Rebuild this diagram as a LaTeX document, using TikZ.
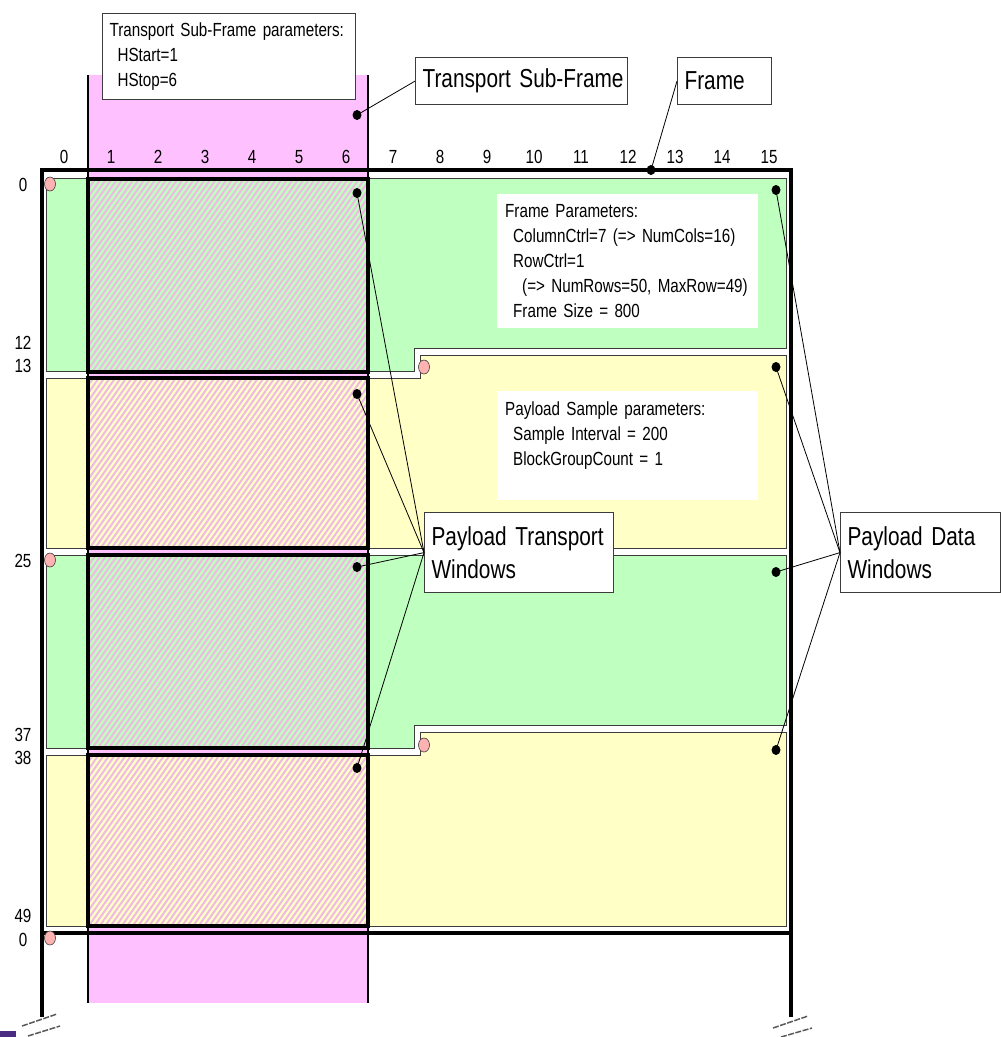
\documentclass[tikz,border=0pt]{standalone}
\usepackage{fontspec}
\setmainfont{Liberation Sans}[FakeStretch=0.8, WordSpace=0.65]
\usetikzlibrary{patterns.meta, shapes.geometric, positioning}

\definecolor{framegreen}{HTML}{BFFFC0}
\definecolor{frameyellow}{HTML}{FFFFC6}
\definecolor{subpink}{HTML}{FFC0FF}
\definecolor{hatchpink}{HTML}{F0B8E4}
\definecolor{startred}{HTML}{FFB2B2}
\definecolor{edgegray}{HTML}{3C3C3C}
\definecolor{slidepurple}{HTML}{4A2C82}

\begin{document}
\begin{tikzpicture}[x=1pt, y=-1pt,
    small/.style={font=\fontsize{19}{25}\selectfont},
    big/.style={font=\fontsize{26}{33}\selectfont},
    labelbox/.style={draw=edgegray, line width=1.2pt, fill=white, anchor=north west,
        align=left, inner xsep=7pt, inner ysep=0pt, text width=#1},
    parambox/.style={fill=white, anchor=north west, align=left, small,
        inner xsep=8pt, inner ysep=0pt, text width=#1},
    region/.style={draw=edgegray, line width=0.9pt},
    window/.style={draw=black, line width=4pt, preaction={fill=#1},
        pattern={Lines[angle=55, distance=4.5pt, line width=2pt]}, pattern color=hatchpink},
    frameline/.style={line width=4pt},
    dot/.style={ellipse, fill=black, inner sep=0pt, minimum width=9pt, minimum height=10pt},
    startmark/.style={ellipse, draw=edgegray, fill=startred, line width=0.6pt,
        inner sep=0pt, minimum width=11pt, minimum height=14pt},
    leader/.style={line width=0.8pt},
    breakmark/.style={black!65, line width=1.5pt, dash pattern=on 6pt off 1.5pt}]
    \useasboundingbox (0,0) rectangle (1001,1037);

    % Transport sub-frame band
    \fill[subpink] (88,75) rectangle (368,1003);

    % Payload data windows
    \filldraw[region, fill=framegreen] (46,178) -- (786,178) -- (786,348) -- (414,348) -- (414,371) -- (46,371) -- cycle;
    \filldraw[region, fill=frameyellow] (46,378) -- (420,378) -- (420,355) -- (786,355) -- (786,548) -- (46,548) -- cycle;
    \filldraw[region, fill=framegreen] (46,555) -- (786,555) -- (786,725) -- (414,725) -- (414,748) -- (46,748) -- cycle;
    \filldraw[region, fill=frameyellow] (46,755) -- (420,755) -- (420,732) -- (786,732) -- (786,926) -- (46,926) -- cycle;

    % Payload transport windows
    \draw[window=framegreen] (88,179) rectangle (368,372);
    \draw[window=frameyellow] (88,378) rectangle (368,548);
    \draw[window=framegreen] (88,555) rectangle (368,748);
    \draw[window=frameyellow] (88,755) rectangle (368,926);

    % Sub-frame edges
    \draw[line width=1.5pt] (88,75) -- (88,1003) (368,75) -- (368,1003);

    % Frame
    \draw[frameline] (42,1017) -- (42,170) -- (791,170) -- (791,1017);
    \draw[frameline] (42,933) -- (791,933);

    % Breaks
    \draw[breakmark] (22,1026) -- (57,1014) (28,1036) -- (60,1026);
    \draw[breakmark] (773,1028) -- (808,1016) (781,1037) -- (812,1028);
    \fill[slidepurple] (0,1031) rectangle (16,1037);

    % Column numbers
    \foreach \c in {0,...,15}
        \node[small] (col\c) at ({64+47*\c},157) {\c};

    % Row numbers
    \foreach \r/\y [count=\i] in {0/185, 12/343, 13/366, 25/561, 37/735, 38/758, 49/916, 0/940}
        \node[small] (row\i) at (23,\y) {\r};

    % Start of each data window
    \foreach \x/\y [count=\i] in {50/184, 424/367, 50/560, 424/745, 50/938}
        \node[startmark] (start\i) at (\x,\y) {};

    % Parameter boxes
    \node[parambox=245pt, minimum height=134pt] (frameparams) at (497,194)
        {Frame Parameters:\\
         \hspace*{8pt}ColumnCtrl=7 (=> NumCols=16)\\
         \hspace*{8pt}RowCtrl=1\\
         \hspace*{17pt}(=> NumRows=50, MaxRow=49)\\
         \hspace*{8pt}Frame Size = 800};
    \node[parambox=245pt, minimum height=109pt] (sampleparams) at (497,391)
        {Payload Sample parameters:\\
         \hspace*{8pt}Sample Interval = 200\\
         \hspace*{8pt}BlockGroupCount = 1\\
         \mbox{}};
    \node[labelbox=239pt, small, minimum height=86pt] (subparams) at (102,13)
        {\mbox{Transport Sub-Frame parameters:}\\
         \hspace*{8pt}HStart=1\\
         \hspace*{8pt}HStop=6};

    % Callouts
    \node[labelbox=198pt, big, minimum height=47pt] (subframe) at (415,57) {\mbox{Transport Sub-Frame}};
    \node[labelbox=80pt, big, minimum height=47pt] (frame) at (677,57) {Frame};
    \node[labelbox=175pt, big, minimum height=80pt] (transwin) at (424,512) {\mbox{Payload Transport}\\Windows};
    \node[labelbox=146pt, big, minimum height=80pt] (datawin) at (840,512) {\mbox{Payload Data}\\Windows};

    % Anchor dots
    \node[dot] (subdot) at (357,115) {};
    \node[dot] (framedot) at (651,170) {};
    \foreach \y [count=\i] in {193, 394, 567, 768}
        \node[dot] (tw\i) at (357,\y) {};
    \foreach \y [count=\i] in {190, 367, 572, 750}
        \node[dot] (dw\i) at (776,\y) {};

    % Leaders
    \draw[leader] (subframe.west) -- (subdot.center);
    \draw[leader] (frame.west) -- (framedot.center);
    \foreach \i in {1,...,4} {
        \draw[leader] (transwin.west) -- (tw\i.center);
        \draw[leader] (datawin.west) -- (dw\i.center);
    }
\end{tikzpicture}
\end{document}
